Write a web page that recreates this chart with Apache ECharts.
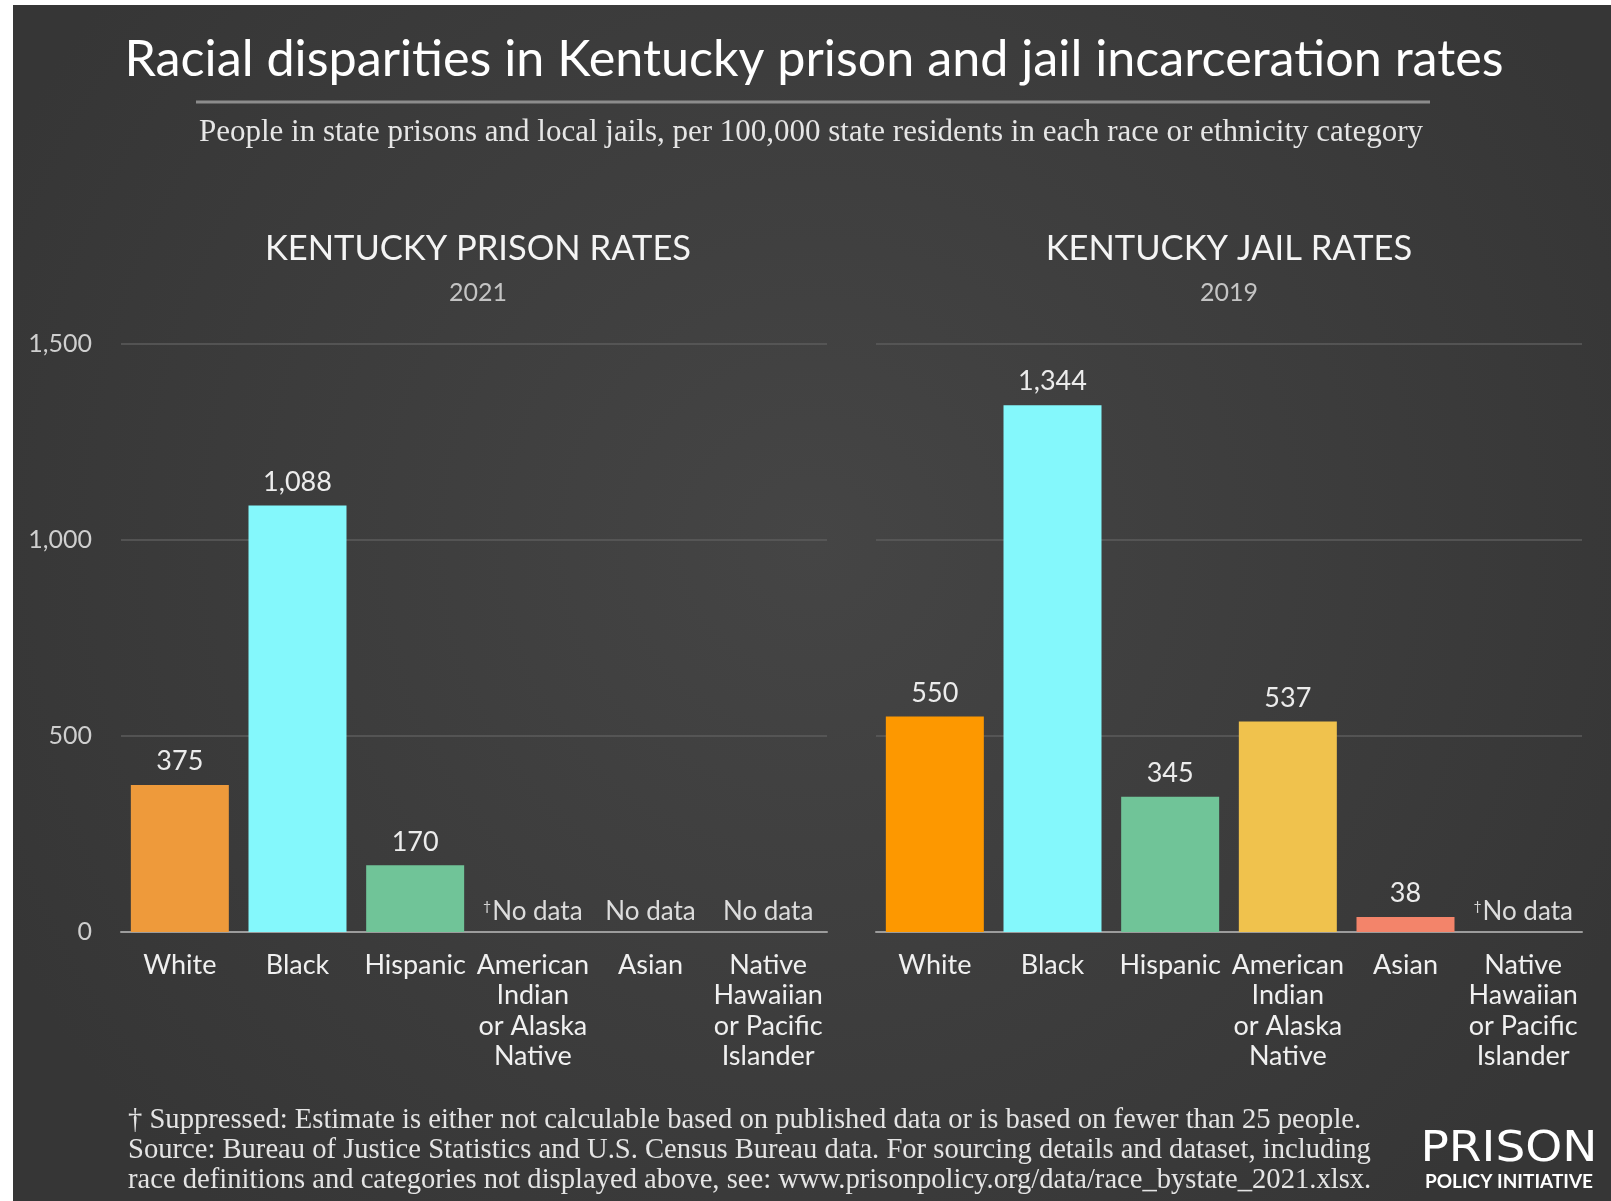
<!DOCTYPE html>
<html>
<head>
<meta charset="utf-8">
<script src="https://cdn.jsdelivr.net/npm/echarts@6/dist/echarts.min.js"></script>
<style>
  html, body { margin: 0; padding: 0; background: #ffffff; }
  #chart { width: 1611px; height: 1201px; }
</style>
</head>
<body>
<div id="chart"></div>
<script>
// Race / ethnicity categories along both x axes
const categories = [
  'White', 'Black', 'Hispanic',
  'American\nIndian\nor Alaska\nNative',
  'Asian',
  'Native\nHawaiian\nor Pacific\nIslander'
];

// Kentucky prison rates, 2021 (per 100,000 residents); null = no data
const prisonValues = [375, 1088, 170, null, null, null];
const prisonSuppressed = [false, false, false, true, false, false];

// Kentucky jail rates, 2019 (per 100,000 residents); null = no data
const jailValues = [550, 1344, 345, 537, 38, null];
const jailSuppressed = [false, false, false, false, false, true];

// Bar colours per category
const prisonColors = ['#ee9a3b', '#84f8fc', '#70c498', '#f0c24d', '#f3846a', '#cccccc'];
const jailColors   = ['#fd9800', '#84f8fc', '#70c498', '#f0c24d', '#f3846a', '#cccccc'];

// Value axis ticks
const yTicks = [0, 500, 1000, 1500];

const SANS = 'Lato, "Noto Sans", sans-serif';
const SERIF = '"Liberation Serif", "DejaVu Serif", serif';

function fmt(v) { return Number(v).toLocaleString('en-US'); }

function barData(values, suppressed, colors) {
  return values.map(function (v, i) {
    if (v == null) {
      return {
        value: 0,
        itemStyle: { color: 'rgba(0,0,0,0)' },
        label: {
          formatter: suppressed[i] ? '{dag|\u2020}{nd|No data}' : '{nd|No data}',
          distance: 7
        }
      };
    }
    return { value: v, itemStyle: { color: colors[i] } };
  });
}

const valueLabel = {
  show: true,
  position: 'top',
  distance: 10,
  color: '#ececec',
  fontFamily: SANS,
  fontSize: 27,
  formatter: function (p) { return fmt(p.value); },
  rich: {
    nd:  { color: '#dcdcdc', fontFamily: SANS, fontSize: 26 },
    dag: { color: '#dcdcdc', fontFamily: SANS, fontSize: 14, verticalAlign: 'top', padding: [0, 1, 9, 0] }
  }
};

const gridTop = 344, gridBottom = 269, gridWidth = 706;

function xAxis(gridIndex) {
  return {
    type: 'category',
    gridIndex: gridIndex,
    data: categories,
    axisTick: { show: false },
    axisLine: { show: true, lineStyle: { color: '#9c9c9c', width: 2 } },
    axisLabel: {
      interval: 0,
      color: '#f0f0f0',
      fontFamily: SANS,
      fontSize: 27,
      lineHeight: 30.5,
      margin: 18,
      align: 'center'
    }
  };
}

function yAxis(gridIndex, showLabels) {
  return {
    type: 'value',
    gridIndex: gridIndex,
    min: yTicks[0],
    max: yTicks[yTicks.length - 1],
    interval: yTicks[1] - yTicks[0],
    axisLine: { show: false },
    axisTick: { show: false },
    splitLine: { show: true, lineStyle: { color: '#5c5c5c', width: 1.5 } },
    axisLabel: {
      show: showLabels,
      color: '#cfcfcf',
      fontFamily: SANS,
      fontSize: 25,
      margin: 29,
      formatter: fmt
    }
  };
}

function centerText(x, y, text, font, fill, scaleX) {
  return {
    type: 'text', x: x, y: y, scaleX: scaleX || 1,
    style: { text: text, font: font, fill: fill, textAlign: 'center', textVerticalAlign: 'middle' }
  };
}
function leftText(x, y, text, font, fill) {
  return {
    type: 'text', x: x, y: y,
    style: { text: text, font: font, fill: fill, textAlign: 'left', textVerticalAlign: 'middle' }
  };
}

const chart = echarts.init(document.getElementById('chart'), null, { renderer: 'canvas' });

chart.setOption({
  animation: false,
  grid: [
    { left: 121, top: gridTop, width: gridWidth, bottom: gridBottom },
    { left: 876, top: gridTop, width: gridWidth, bottom: gridBottom }
  ],
  xAxis: [xAxis(0), xAxis(1)],
  yAxis: [yAxis(0, true), yAxis(1, false)],
  series: [
    {
      name: 'Kentucky prison rates 2021',
      type: 'bar',
      xAxisIndex: 0, yAxisIndex: 0,
      barWidth: 98,
      data: barData(prisonValues, prisonSuppressed, prisonColors),
      label: valueLabel
    },
    {
      name: 'Kentucky jail rates 2019',
      type: 'bar',
      xAxisIndex: 1, yAxisIndex: 1,
      barWidth: 98,
      data: barData(jailValues, jailSuppressed, jailColors),
      label: valueLabel
    }
  ],
  graphic: [
    {
      type: 'rect', z: -100, silent: true,
      shape: { x: 13, y: 5, width: 1598, height: 1196 },
      style: {
        fill: new echarts.graphic.RadialGradient(0.5, 0.45, 0.75, [
          { offset: 0, color: '#454545' },
          { offset: 1, color: '#363636' }
        ])
      }
    },
    centerText(814, 60, 'Racial disparities in Kentucky prison and jail incarceration rates', '50.3px ' + SANS, '#ffffff'),
    {
      type: 'line', silent: true,
      shape: { x1: 196, y1: 102, x2: 1430, y2: 102 },
      style: { stroke: '#8c8c8c', lineWidth: 3 }
    },
    centerText(811, 133, 'People in state prisons and local jails, per 100,000 state residents in each race or ethnicity category', '31px ' + SERIF, '#e6e6e6'),
    centerText(478, 249, 'KENTUCKY PRISON RATES', '34.5px ' + SANS, '#f4f4f4'),
    centerText(478, 293, '2021', '25px ' + SANS, '#c4c4c4'),
    centerText(1229, 249, 'KENTUCKY JAIL RATES', '34.5px ' + SANS, '#f4f4f4'),
    centerText(1229, 293, '2019', '25px ' + SANS, '#c4c4c4'),
    leftText(128, 1120, '\u2020 Suppressed: Estimate is either not calculable based on published data or is based on fewer than 25 people.', '28.6px ' + SERIF, '#e4e4e4'),
    leftText(128, 1150, 'Source: Bureau of Justice Statistics and U.S. Census Bureau data. For sourcing details and dataset, including', '28.6px ' + SERIF, '#e4e4e4'),
    leftText(128, 1180, 'race definitions and categories not displayed above, see: www.prisonpolicy.org/data/race_bystate_2021.xlsx.', '28.6px ' + SERIF, '#e4e4e4'),
    centerText(1509, 1150, 'PRISON', '42px "DejaVu Sans", ' + SANS, '#ffffff', 1.12),
    centerText(1509, 1182, 'POLICY INITIATIVE', 'bold 19px ' + SANS, '#ffffff')
  ]
});
</script>
</body>
</html>
